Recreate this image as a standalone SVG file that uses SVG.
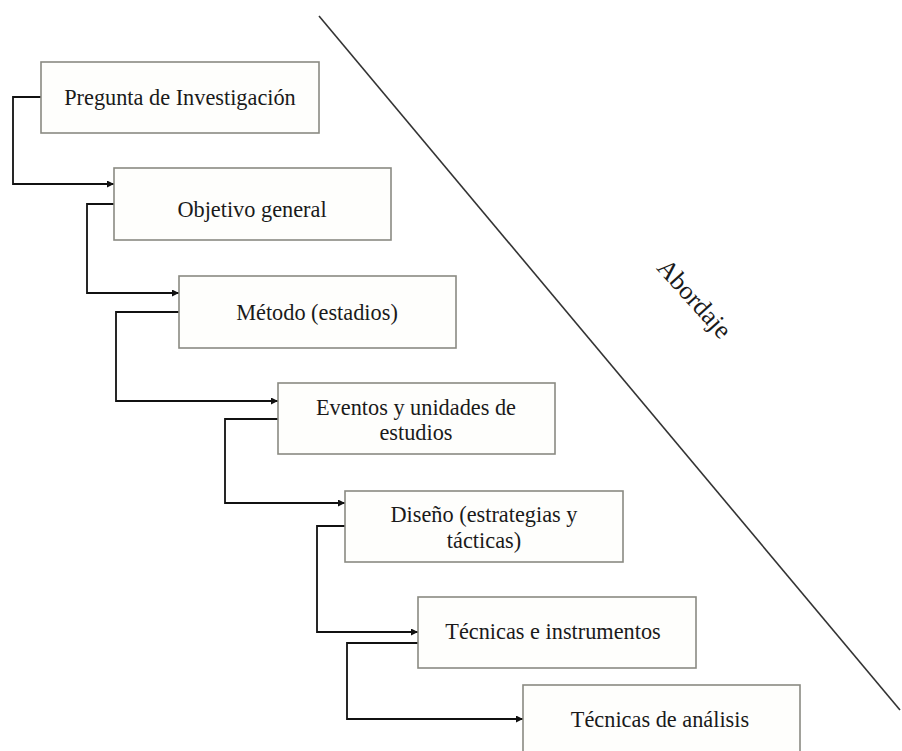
<svg xmlns="http://www.w3.org/2000/svg" width="902" height="751" viewBox="0 0 902 751">
<style>
.box{fill:#fefefc;stroke:#8a8a82;stroke-width:1.6}
.t{font-family:"Liberation Serif","Times New Roman",serif;font-size:22.3px;fill:#1a1a1a;text-anchor:middle}
.c{fill:none;stroke:#111;stroke-width:1.8;marker-end:url(#ah)}
</style>
<defs>
<marker id="ah" viewBox="0 0 10 10" refX="10" refY="5" markerWidth="7" markerHeight="7" markerUnits="userSpaceOnUse" orient="auto">
<path d="M0,0 L10,5 L0,10 z" fill="#111"/>
</marker>
</defs>
<rect width="902" height="751" fill="#fff"/>
<line x1="319" y1="16" x2="900" y2="710" stroke="#333" stroke-width="1.6"/>
<text class="t" style="font-size:26px" transform="translate(694,299) rotate(48)" y="8">Abordaje</text>
<g id="connectors">
<path class="c" d="M41,97 H13 V184 H114"/>
<path class="c" d="M114,204 H87 V293 H179"/>
<path class="c" d="M179,312 H116 V401 H278"/>
<path class="c" d="M278,419 H225 V503 H345"/>
<path class="c" d="M345,526 H317 V632 H418"/>
<path class="c" d="M418,643 H347 V719 H523"/>
</g>
<g id="n1"><rect class="box" x="41" y="62" width="278" height="71"/><text class="t" x="180" y="105">Pregunta de Investigación</text></g>
<g id="n2"><rect class="box" x="114" y="168" width="277" height="72"/><text class="t" x="252" y="217">Objetivo general</text></g>
<g id="n3"><rect class="box" x="179" y="276" width="277" height="72"/><text class="t" x="317" y="320">Método (estadios)</text></g>
<g id="n4"><rect class="box" x="278" y="383" width="277" height="71"/><text class="t" x="416" y="415">Eventos y unidades de</text><text class="t" x="416" y="440">estudios</text></g>
<g id="n5"><rect class="box" x="345" y="491" width="278" height="71"/><text class="t" x="484" y="522">Diseño (estrategias y</text><text class="t" x="484" y="548">tácticas)</text></g>
<g id="n6"><rect class="box" x="418" y="597" width="278" height="71"/><text class="t" x="553" y="639">Técnicas e instrumentos</text></g>
<g id="n7"><rect class="box" x="523" y="685" width="277" height="72"/><text class="t" x="660" y="727">Técnicas de análisis</text></g>
</svg>
